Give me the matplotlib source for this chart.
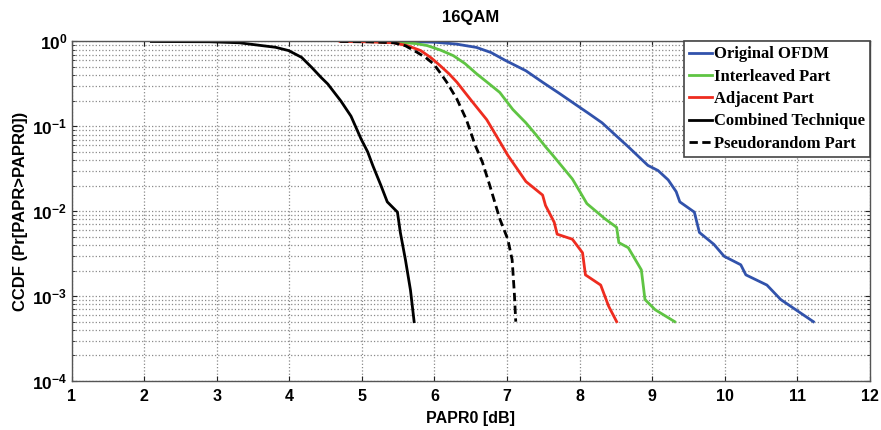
import math
import matplotlib
matplotlib.use("Agg")
import matplotlib.pyplot as plt
from matplotlib.ticker import FixedLocator, LogLocator, FuncFormatter, NullFormatter

plt.rcParams["mathtext.fontset"] = "custom"
plt.rcParams["mathtext.rm"] = "Liberation Sans"
plt.rcParams["mathtext.bf"] = "Liberation Sans:bold"
plt.rcParams["axes.unicode_minus"] = False

# ---- data ----
orig_x = [5.5, 6.0, 6.3, 6.58, 6.78, 6.97, 7.26, 7.49, 7.72, 7.94, 8.13, 8.31, 8.49, 8.67,
          8.94, 9.08, 9.22, 9.33, 9.38, 9.58, 9.65, 9.85, 9.99, 10.22, 10.29, 10.58, 10.77,
          11.22]
orig_y = [1.0, 0.982, 0.933, 0.851, 0.741, 0.603, 0.452, 0.331, 0.245, 0.182, 0.141, 0.110,
          0.0794, 0.0575, 0.0347, 0.0302, 0.0234, 0.0170, 0.0129, 0.00977, 0.00562, 0.00407,
          0.00295, 0.00234, 0.00178, 0.00135, 0.000912, 0.0005]

inter_x = [5.0, 5.5, 5.75, 5.90, 6.08, 6.26, 6.42, 6.58, 6.74, 6.90, 7.08, 7.26, 7.40, 7.53,
           7.63, 7.90, 7.99, 8.10, 8.35, 8.51, 8.54, 8.67, 8.85, 8.90, 9.04, 9.31]
inter_y = [1.0, 0.982, 0.944, 0.895, 0.794, 0.681, 0.550, 0.417, 0.324, 0.251, 0.158, 0.110,
           0.0794, 0.0575, 0.0457, 0.0240, 0.0178, 0.0123, 0.00813, 0.00646, 0.00427,
           0.00372, 0.00204, 0.000912, 0.000692, 0.0005]

adj_x = [4.7, 5.1, 5.44, 5.63, 5.81, 5.95, 6.08, 6.20, 6.31, 6.42, 6.53, 6.72, 6.90, 7.01,
         7.26, 7.49, 7.53, 7.65, 7.69, 7.90, 8.04, 8.08, 8.29, 8.40, 8.51]
adj_y = [1.0, 0.991, 0.966, 0.891, 0.782, 0.646, 0.518, 0.417, 0.331, 0.251, 0.191, 0.120,
         0.0661, 0.0457, 0.0224, 0.0155, 0.0117, 0.00741, 0.00537, 0.00468, 0.00324,
         0.00178, 0.00135, 0.000759, 0.0005]

comb_x = [2.1, 2.9, 3.31, 3.62, 3.81, 3.99, 4.17, 4.31, 4.44, 4.53, 4.62, 4.71, 4.85, 4.99,
          5.08, 5.15, 5.26, 5.35, 5.49, 5.53, 5.60, 5.67, 5.72]
comb_y = [1.0, 0.993, 0.966, 0.895, 0.855, 0.782, 0.650, 0.494, 0.376, 0.316, 0.251, 0.1995,
          0.132, 0.0708, 0.0501, 0.0347, 0.0204, 0.0129, 0.00977, 0.00562, 0.00269, 0.00117,
          0.0005]

pseudo_x = [4.7, 5.1, 5.44, 5.6, 5.76, 5.88, 5.99, 6.08, 6.17, 6.24, 6.31, 6.44, 6.56, 6.66,
            6.76, 6.90, 7.01, 7.07, 7.10, 7.12]
pseudo_y = [1.0, 0.991, 0.966, 0.891, 0.746, 0.646, 0.542, 0.427, 0.331, 0.263, 0.209, 0.120,
            0.0603, 0.0380, 0.0204, 0.00813, 0.00468, 0.00269, 0.0011, 0.0005]

x_ticks = [1, 2, 3, 4, 5, 6, 7, 8, 9, 10, 11, 12]
labels = ["Original OFDM", "Interleaved Part", "Adjacent Part", "Combined Technique",
          "Pseudorandom Part"]

# ---- figure ----
fig = plt.figure(figsize=(8.81, 4.30), dpi=100)
ax = fig.add_axes([71.5 / 881, 1 - 381 / 430, (870 - 71.5) / 881, (381 - 41.5) / 430])

lw = 2.0
ax.plot(orig_x, orig_y, color="#3152ab", lw=lw, label=labels[0])
ax.plot(inter_x, inter_y, color="#5fc443", lw=lw, label=labels[1])
ax.plot(adj_x, adj_y, color="#ee2c1f", lw=lw, label=labels[2])
ax.plot(comb_x, comb_y, color="black", lw=lw, label=labels[3])
ax.plot(pseudo_x, pseudo_y, color="black", lw=lw, ls=(0, (3, 1.6)), label=labels[4])

ax.set_yscale("log")
ax.set_xlim(1, 12)
ax.set_ylim(1e-4, 1)
ax.xaxis.set_major_locator(FixedLocator(x_ticks))
ax.yaxis.set_major_locator(LogLocator(base=10, numticks=10))
ax.yaxis.set_minor_locator(LogLocator(base=10, subs=range(2, 10), numticks=20))
ax.yaxis.set_minor_formatter(NullFormatter())


def yfmt(v, pos):
    e = int(round(math.log10(v)))
    return r"$\mathbf{10^{%d}}$" % e


ax.yaxis.set_major_formatter(FuncFormatter(yfmt))
ax.xaxis.set_major_formatter(FuncFormatter(lambda v, p: "%d" % v))

ax.grid(True, which="major", axis="x", color="#8a8a8a", ls=":", lw=0.9)
ax.grid(True, which="both", axis="y", color="#8a8a8a", ls=":", lw=0.9)
ax.set_axisbelow(True)

ax.tick_params(axis="both", which="both", direction="in", top=True, right=True,
               colors="#222222", labelcolor="black")
ax.tick_params(axis="x", which="major", pad=6, labelsize=11.5)
ax.tick_params(axis="y", which="major", pad=3, labelsize=12.5)
ax.tick_params(axis="y", which="minor", length=2)
for lab in ax.get_xticklabels():
    lab.set_fontweight("bold")
    lab.set_family("Liberation Sans")
for sp in ax.spines.values():
    sp.set_color("#555555")
    sp.set_linewidth(1.0)

ax.set_title("16QAM", fontsize=12, fontweight="bold", family="Liberation Sans", pad=14)
ax.set_xlabel("PAPR0 [dB]", fontsize=11.5, fontweight="bold", family="Liberation Sans",
              labelpad=5)
ax.set_ylabel("CCDF (Pr[PAPR>PAPR0])", fontsize=12, fontweight="bold",
              family="Liberation Sans", labelpad=3)

leg = ax.legend(loc="upper right", prop={"family": "Liberation Serif", "weight": "bold",
                                          "size": 12},
                handlelength=1.4, handletextpad=0.1, labelspacing=0.38,
                borderpad=0.3, borderaxespad=0.0, fancybox=False, framealpha=1,
                edgecolor="#444444")
leg.get_frame().set_linewidth(1.2)

fig.savefig("out.png", dpi=100)
